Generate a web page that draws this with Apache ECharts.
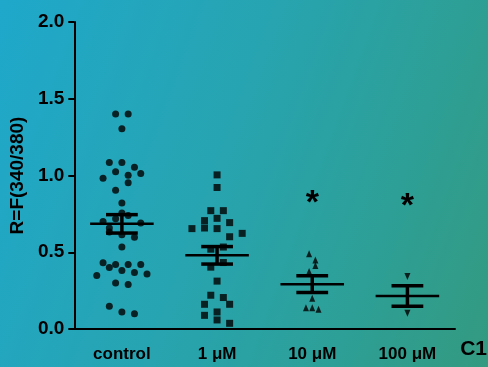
<!DOCTYPE html>
<html>
<head>
<meta charset="utf-8">
<script src="https://cdn.jsdelivr.net/npm/echarts@6/dist/echarts.min.js"></script>
<style>
html,body{margin:0;padding:0;}
#chart{width:488px;height:367px;background:linear-gradient(110deg,#1fa8cb 0%,#27a4b0 45%,#2d9f96 75%,#349a80 100%);}
</style>
</head>
<body>
<div id="chart"></div>
<script>
// Categories
var categories = ['control', '1 \u03bcM', '10 \u03bcM', '100 \u03bcM'];

// Individual values per group
var controlValues = [1.40,1.40,1.305,1.085,1.085,1.054,1.024,0.982,1.002,1.013,0.952,0.904,0.821,0.756,0.739,0.719,0.701,0.691,0.658,0.632,0.614,0.597,0.534,0.431,0.401,0.42,0.42,0.42,0.348,0.381,0.368,0.359,0.299,0.29,0.148,0.111,0.10];
var controlJitter = [-1,1,0,-2,0,2,-1,-3,1,3,1,-1,0,0,1,-1,-3,3,-2,-2,0,2,0,-3,-2,-1,1,3,-4,0,2,4,-1,1,-2,0,2];

var oneUMValues = [1.004,0.922,0.771,0.771,0.721,0.706,0.693,0.658,0.654,0.654,0.623,0.601,0.52,0.534,0.433,0.403,0.312,0.22,0.205,0.161,0.161,0.111,0.089,0.059,0.037];
var oneUMJitter = [0,0,-1,1,0,-2,2,-2,-4,0,4,2,-1,1,1,-1,0,-1,1,-2,2,0,-2,0,2];

var tenUMValues = [0.49,0.449,0.414,0.375,0.2,0.139,0.139,0.129];
var tenUMJitter = [-0.5,0.5,0.5,-0.5,0,-1,0,1];

var hundredUMValues = [0.342,0.102];
var hundredUMJitter = [0,0];

// Mean and SEM per group
var means = [0.685, 0.48, 0.292, 0.215];
var sems = [0.06, 0.057, 0.055, 0.067];

// Significance markers
var starGroups = [2, 3];
var starValues = [0.82, 0.80];

var yTicks = [0, 0.5, 1.0, 1.5, 2.0];

var jitterStep = 0.066;
var meanHalf = 0.334;
var semHalf = 0.167;

function pts(idx, vals, jit) {
  return vals.map(function (v, i) { return [idx + jit[i] * jitterStep, v]; });
}

var chart = echarts.init(document.getElementById('chart'), null, {renderer: 'canvas'});
var FONT = 'Liberation Sans';

var option = {
  backgroundColor: 'transparent',
  animation: false,
  grid: {left: 72, right: 33, top: 22, bottom: 38, containLabel: false},
  xAxis: [
    {
      type: 'category', data: categories, boundaryGap: true,
      axisLine: {show: true, onZero: false, lineStyle: {color: '#000', width: 2}},
      axisTick: {show: false},
      axisLabel: {color: '#000', fontFamily: FONT, fontWeight: 'bold', fontSize: 17, margin: 17},
      splitLine: {show: false}
    },
    {type: 'value', min: -0.5, max: 3.5, show: false}
  ],
  yAxis: {
    type: 'value', min: yTicks[0], max: yTicks[yTicks.length - 1], interval: 0.5,
    name: 'R=F(340/380)', nameLocation: 'middle', nameGap: 46, nameRotate: 90,
    nameTextStyle: {color: '#000', fontFamily: FONT, fontWeight: 'bold', fontSize: 19},
    axisLine: {show: true, onZero: false, lineStyle: {color: '#000', width: 2}},
    axisTick: {show: true, length: 6, lineStyle: {color: '#000', width: 2}},
    axisLabel: {color: '#000', fontFamily: FONT, fontWeight: 'bold', fontSize: 19, margin: 10,
      formatter: function (v) { return v.toFixed(1); }},
    splitLine: {show: false}
  },
  graphic: [{
    type: 'text', right: 1, top: 339,
    style: {text: 'C1', font: 'bold 21px ' + FONT, fill: '#000'}
  }],
  series: [
    {type: 'scatter', xAxisIndex: 1, symbol: 'circle', symbolSize: 7, itemStyle: {color: '#000'},
      data: pts(0, controlValues, controlJitter)},
    {type: 'scatter', xAxisIndex: 1, symbol: 'rect', symbolSize: 7, itemStyle: {color: '#000'},
      data: pts(1, oneUMValues, oneUMJitter)},
    {type: 'scatter', xAxisIndex: 1, symbol: 'triangle', symbolSize: [6, 7], itemStyle: {color: '#000'},
      data: pts(2, tenUMValues, tenUMJitter)},
    {type: 'scatter', xAxisIndex: 1, symbol: 'triangle', symbolRotate: 180, symbolSize: [6, 7], itemStyle: {color: '#000'},
      data: pts(3, hundredUMValues, hundredUMJitter)},
    {
      type: 'custom', xAxisIndex: 1, z: 5,
      data: means.map(function (m, i) { return [i, m, sems[i]]; }),
      renderItem: function (params, api) {
        var x = api.value(0), m = api.value(1), s = api.value(2);
        var a = api.coord([x - meanHalf, m]), b = api.coord([x + meanHalf, m]);
        var t1 = api.coord([x - semHalf, m + s]), t2 = api.coord([x + semHalf, m + s]);
        var b1 = api.coord([x - semHalf, m - s]), b2 = api.coord([x + semHalf, m - s]);
        var c1 = api.coord([x, m + s]), c2 = api.coord([x, m - s]);
        return {type: 'group', children: [
          {type: 'line', shape: {x1: a[0], y1: a[1], x2: b[0], y2: b[1]}, style: {stroke: '#000', lineWidth: 2.5}},
          {type: 'line', shape: {x1: t1[0], y1: t1[1], x2: t2[0], y2: t2[1]}, style: {stroke: '#000', lineWidth: 3.5}},
          {type: 'line', shape: {x1: b1[0], y1: b1[1], x2: b2[0], y2: b2[1]}, style: {stroke: '#000', lineWidth: 3.5}},
          {type: 'line', shape: {x1: c1[0], y1: c1[1], x2: c2[0], y2: c2[1]}, style: {stroke: '#000', lineWidth: 3.5}}
        ]};
      }
    },
    {
      type: 'custom', xAxisIndex: 1, z: 6,
      data: starGroups.map(function (g, i) { return [g, starValues[i]]; }),
      renderItem: function (params, api) {
        var p = api.coord([api.value(0), api.value(1)]);
        return {type: 'text', x: p[0], y: p[1], style: {text: '*', font: 'bold 34px ' + FONT, fill: '#000', align: 'center', verticalAlign: 'middle'}};
      }
    }
  ]
};
chart.setOption(option);
</script>
</body>
</html>
